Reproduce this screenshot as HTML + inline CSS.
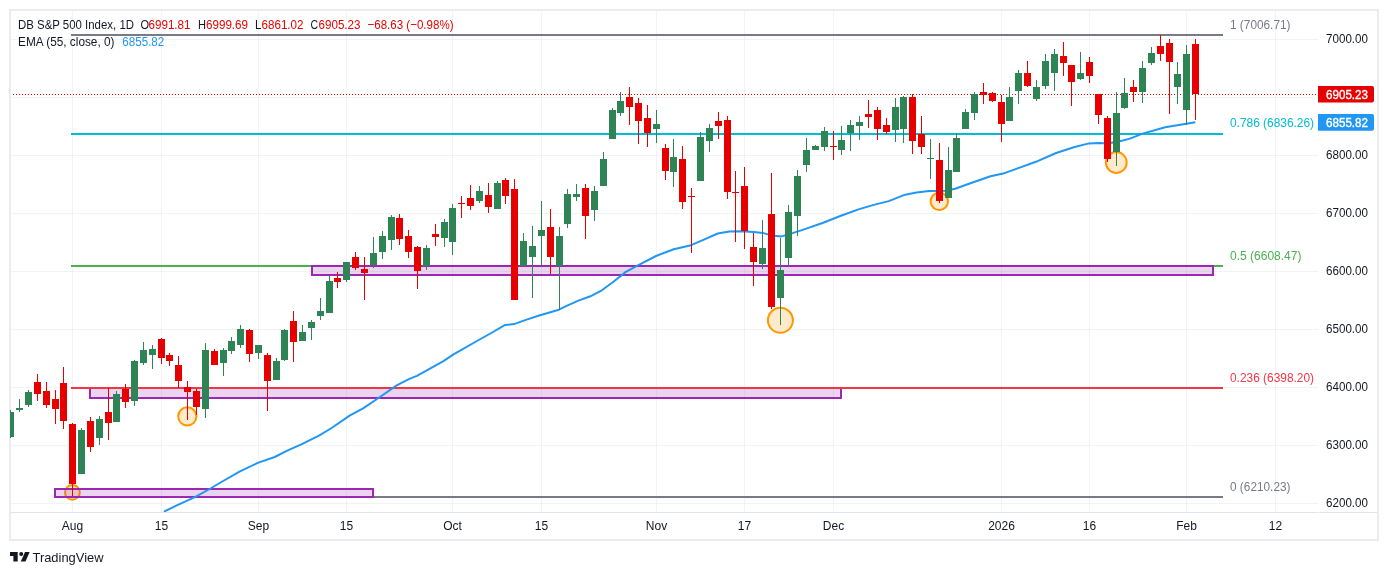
<!DOCTYPE html><html><head><meta charset="utf-8"><style>html,body{margin:0;padding:0;background:#fff;width:1388px;height:575px;overflow:hidden}svg{display:block;will-change:transform}text{font-family:"Liberation Sans",sans-serif}</style></head><body>
<svg width="1388" height="575" viewBox="0 0 1388 575" shape-rendering="crispEdges">
<defs><clipPath id="pane"><rect x="10" y="11" width="1308" height="501"/></clipPath></defs>
<rect x="10" y="10" width="1368" height="530" fill="none" stroke="#ebecf1" stroke-width="2"/>
<g fill="rgb(80,110,110)" fill-opacity="0.08"><rect x="11" y="39" width="1307" height="1"/><rect x="11" y="97" width="1307" height="1"/><rect x="11" y="155" width="1307" height="1"/><rect x="11" y="213" width="1307" height="1"/><rect x="11" y="271" width="1307" height="1"/><rect x="11" y="329" width="1307" height="1"/><rect x="11" y="387" width="1307" height="1"/><rect x="11" y="445" width="1307" height="1"/><rect x="11" y="503" width="1307" height="1"/><rect x="72" y="11" width="1" height="501"/><rect x="161" y="11" width="1" height="501"/><rect x="258" y="11" width="1" height="501"/><rect x="346" y="11" width="1" height="501"/><rect x="452" y="11" width="1" height="501"/><rect x="541" y="11" width="1" height="501"/><rect x="656" y="11" width="1" height="501"/><rect x="744" y="11" width="1" height="501"/><rect x="833" y="11" width="1" height="501"/><rect x="1001" y="11" width="1" height="501"/><rect x="1089" y="11" width="1" height="501"/><rect x="1186" y="11" width="1" height="501"/><rect x="1275" y="11" width="1" height="501"/></g>
<rect x="11" y="512" width="1307" height="1" fill="#e0e3eb"/>
<rect x="1319" y="512" width="58" height="1" fill="#e0e3eb"/>
<g clip-path="url(#pane)"><rect x="90" y="388" width="751" height="10" fill="rgba(156,39,176,0.2)" stroke="#9c27b0" stroke-width="2"/><rect x="71" y="34" width="1152" height="2" fill="#787b86"/><rect x="71" y="133" width="1152" height="2" fill="#00bcd4"/><rect x="71" y="265" width="1152" height="2" fill="#4caf50"/><rect x="71" y="387" width="1152" height="2" fill="#f23645"/><rect x="71" y="496" width="1152" height="2" fill="#787b86"/><g fill="#ffeacc" stroke="#ff9800" stroke-width="2" shape-rendering="geometricPrecision"><circle cx="187.3" cy="416.4" r="9.1"/><circle cx="72.4" cy="492.4" r="7.4"/><circle cx="780.4" cy="320.3" r="12.5"/><circle cx="939.3" cy="201.4" r="8.7"/><circle cx="1116.3" cy="162.5" r="10.4"/></g><rect x="55" y="489" width="318" height="8" fill="rgba(156,39,176,0.2)" stroke="#9c27b0" stroke-width="2"/><rect x="312" y="266" width="901" height="9" fill="rgba(156,39,176,0.2)" stroke="#9c27b0" stroke-width="2"/><line x1="13" y1="94.5" x2="1318" y2="94.5" stroke="#e60000" stroke-width="1" stroke-dasharray="1 2"/><polyline points="163.9,511.7 175.2,506.2 195.4,496.9 210.5,488.5 223.1,481 239.5,471.6 258.4,462.6 274.8,457 286.2,451.2 301.3,444.4 319,435.6 331.6,428 350,415.4 362.7,408.6 377.8,398.5 396.7,385.4 409.4,378.9 416.9,375.8 443.4,361.2 453.5,354.4 478.7,340 491.3,333 505.2,324.9 514,324.1 526.6,319.6 540,315.2 558.9,309.7 567.7,305.4 577.8,300.9 590.4,296.3 601.8,290.3 613.1,282 625.8,271.9 638.4,265.1 656,256 673.7,249.2 690,245.6 703.9,239.6 717.8,233.5 729.2,231.5 740,231.2 753.9,232.1 762.7,232.9 771.5,235.4 781.6,236.4 790.4,233.9 805.6,228.9 823.2,222.8 840.9,215.8 858.5,209.4 873.7,204.9 888.8,201.1 903.9,195.1 916.5,192.5 929.2,191 945.1,190.8 955.2,188.8 970.4,183.2 990.5,176.2 1003.1,173.6 1018.3,168.1 1035.9,161.8 1056.1,153 1073.8,147.2 1088.9,143.4 1099,142.9 1106.5,143.6 1118,141.8 1130,138.6 1142.6,133.6 1165.2,127.3 1195.3,122.3" fill="none" stroke="#2196f3" stroke-width="2" stroke-linejoin="round" shape-rendering="geometricPrecision"/><g fill="#e60000"><rect x="34" y="382" width="7" height="12"/><rect x="37" y="374" width="1" height="27"/><rect x="43" y="391" width="7" height="14"/><rect x="46" y="382" width="1" height="26"/><rect x="52" y="399" width="7" height="10"/><rect x="55" y="390" width="1" height="34"/><rect x="60" y="383" width="7" height="38"/><rect x="63" y="367" width="1" height="62"/><rect x="69" y="424" width="7" height="60"/><rect x="72" y="423" width="1" height="73"/><rect x="87" y="421" width="7" height="26"/><rect x="90" y="417" width="1" height="35"/><rect x="105" y="412" width="7" height="11"/><rect x="108" y="388" width="1" height="52"/><rect x="122" y="389" width="7" height="13"/><rect x="125" y="384" width="1" height="24"/><rect x="158" y="339" width="7" height="19"/><rect x="161" y="338" width="1" height="26"/><rect x="166" y="355" width="7" height="6"/><rect x="169" y="353" width="1" height="13"/><rect x="175" y="365" width="7" height="16"/><rect x="178" y="356" width="1" height="32"/><rect x="184" y="387" width="7" height="5"/><rect x="187" y="381" width="1" height="39"/><rect x="193" y="391" width="7" height="16"/><rect x="196" y="389" width="1" height="26"/><rect x="211" y="351" width="7" height="14"/><rect x="214" y="349" width="1" height="16"/><rect x="246" y="330" width="7" height="24"/><rect x="249" y="329" width="1" height="33"/><rect x="264" y="355" width="7" height="26"/><rect x="267" y="353" width="1" height="58"/><rect x="290" y="321" width="7" height="21"/><rect x="293" y="311" width="1" height="51"/><rect x="334" y="278" width="7" height="4"/><rect x="337" y="272" width="1" height="16"/><rect x="352" y="257" width="7" height="11"/><rect x="355" y="252" width="1" height="18"/><rect x="361" y="269" width="7" height="4"/><rect x="364" y="257" width="1" height="43"/><rect x="396" y="218" width="7" height="21"/><rect x="399" y="214" width="1" height="31"/><rect x="405" y="236" width="7" height="16"/><rect x="408" y="230" width="1" height="28"/><rect x="414" y="247" width="7" height="24"/><rect x="417" y="246" width="1" height="43"/><rect x="432" y="234" width="7" height="3"/><rect x="435" y="224" width="1" height="22"/><rect x="458" y="203" width="7" height="1"/><rect x="461" y="196" width="1" height="22"/><rect x="467" y="198" width="7" height="8"/><rect x="470" y="185" width="1" height="25"/><rect x="485" y="195" width="7" height="12"/><rect x="488" y="183" width="1" height="30"/><rect x="502" y="180" width="7" height="16"/><rect x="505" y="178" width="1" height="26"/><rect x="511" y="189" width="7" height="111"/><rect x="514" y="179" width="1" height="121"/><rect x="547" y="227" width="7" height="30"/><rect x="550" y="209" width="1" height="65"/><rect x="582" y="188" width="7" height="28"/><rect x="585" y="184" width="1" height="55"/><rect x="626" y="97" width="7" height="10"/><rect x="629" y="87" width="1" height="38"/><rect x="635" y="103" width="7" height="18"/><rect x="638" y="98" width="1" height="46"/><rect x="644" y="118" width="7" height="15"/><rect x="647" y="105" width="1" height="42"/><rect x="662" y="148" width="7" height="23"/><rect x="665" y="144" width="1" height="36"/><rect x="679" y="159" width="7" height="43"/><rect x="682" y="146" width="1" height="63"/><rect x="688" y="196" width="7" height="1"/><rect x="691" y="188" width="1" height="65"/><rect x="715" y="121" width="7" height="5"/><rect x="718" y="112" width="1" height="27"/><rect x="724" y="120" width="7" height="72"/><rect x="727" y="116" width="1" height="83"/><rect x="732" y="192" width="7" height="1"/><rect x="735" y="171" width="1" height="71"/><rect x="741" y="186" width="7" height="45"/><rect x="744" y="167" width="1" height="82"/><rect x="750" y="247" width="7" height="15"/><rect x="753" y="233" width="1" height="53"/><rect x="768" y="214" width="7" height="93"/><rect x="771" y="173" width="1" height="136"/><rect x="830" y="146" width="7" height="1"/><rect x="833" y="131" width="1" height="29"/><rect x="865" y="114" width="7" height="3"/><rect x="868" y="100" width="1" height="28"/><rect x="874" y="110" width="7" height="19"/><rect x="877" y="107" width="1" height="33"/><rect x="883" y="125" width="7" height="7"/><rect x="886" y="118" width="1" height="16"/><rect x="909" y="97" width="7" height="44"/><rect x="912" y="94" width="1" height="60"/><rect x="918" y="134" width="7" height="13"/><rect x="921" y="116" width="1" height="38"/><rect x="936" y="160" width="7" height="41"/><rect x="939" y="143" width="1" height="60"/><rect x="980" y="92" width="7" height="3"/><rect x="983" y="83" width="1" height="21"/><rect x="989" y="93" width="7" height="8"/><rect x="992" y="92" width="1" height="10"/><rect x="998" y="102" width="7" height="22"/><rect x="1001" y="95" width="1" height="47"/><rect x="1024" y="73" width="7" height="13"/><rect x="1027" y="61" width="1" height="26"/><rect x="1060" y="56" width="7" height="7"/><rect x="1063" y="42" width="1" height="34"/><rect x="1068" y="65" width="7" height="17"/><rect x="1071" y="65" width="1" height="41"/><rect x="1086" y="62" width="7" height="14"/><rect x="1089" y="57" width="1" height="26"/><rect x="1095" y="94" width="7" height="21"/><rect x="1098" y="94" width="1" height="30"/><rect x="1104" y="118" width="7" height="41"/><rect x="1107" y="116" width="1" height="46"/><rect x="1130" y="87" width="7" height="5"/><rect x="1133" y="80" width="1" height="22"/><rect x="1157" y="46" width="7" height="8"/><rect x="1160" y="35" width="1" height="26"/><rect x="1166" y="43" width="7" height="19"/><rect x="1169" y="39" width="1" height="75"/><rect x="1192" y="44" width="7" height="50"/><rect x="1195" y="39" width="1" height="81"/></g><g fill="#2e8454"><rect x="7" y="412" width="7" height="25"/><rect x="10" y="410" width="1" height="28"/><rect x="16" y="408" width="7" height="2"/><rect x="19" y="399" width="1" height="13"/><rect x="25" y="392" width="7" height="13"/><rect x="28" y="390" width="1" height="17"/><rect x="78" y="430" width="7" height="44"/><rect x="81" y="428" width="1" height="46"/><rect x="96" y="419" width="7" height="19"/><rect x="99" y="416" width="1" height="29"/><rect x="113" y="394" width="7" height="28"/><rect x="116" y="391" width="1" height="31"/><rect x="131" y="361" width="7" height="40"/><rect x="134" y="360" width="1" height="46"/><rect x="140" y="350" width="7" height="13"/><rect x="143" y="342" width="1" height="23"/><rect x="149" y="349" width="7" height="6"/><rect x="152" y="345" width="1" height="24"/><rect x="202" y="350" width="7" height="59"/><rect x="205" y="343" width="1" height="75"/><rect x="220" y="350" width="7" height="13"/><rect x="223" y="348" width="1" height="28"/><rect x="228" y="341" width="7" height="10"/><rect x="231" y="337" width="1" height="17"/><rect x="237" y="329" width="7" height="16"/><rect x="240" y="325" width="1" height="23"/><rect x="255" y="345" width="7" height="8"/><rect x="258" y="345" width="1" height="14"/><rect x="273" y="361" width="7" height="19"/><rect x="276" y="358" width="1" height="22"/><rect x="281" y="330" width="7" height="30"/><rect x="284" y="329" width="1" height="32"/><rect x="299" y="332" width="7" height="9"/><rect x="302" y="325" width="1" height="16"/><rect x="308" y="322" width="7" height="6"/><rect x="311" y="320" width="1" height="20"/><rect x="317" y="311" width="7" height="5"/><rect x="320" y="298" width="1" height="22"/><rect x="326" y="281" width="7" height="32"/><rect x="329" y="276" width="1" height="37"/><rect x="343" y="262" width="7" height="18"/><rect x="346" y="262" width="1" height="20"/><rect x="370" y="253" width="7" height="12"/><rect x="373" y="237" width="1" height="31"/><rect x="379" y="236" width="7" height="16"/><rect x="382" y="231" width="1" height="28"/><rect x="388" y="217" width="7" height="23"/><rect x="391" y="215" width="1" height="35"/><rect x="423" y="248" width="7" height="18"/><rect x="426" y="245" width="1" height="25"/><rect x="441" y="222" width="7" height="16"/><rect x="444" y="219" width="1" height="28"/><rect x="449" y="208" width="7" height="34"/><rect x="452" y="204" width="1" height="51"/><rect x="476" y="191" width="7" height="10"/><rect x="479" y="186" width="1" height="17"/><rect x="494" y="183" width="7" height="26"/><rect x="497" y="181" width="1" height="28"/><rect x="520" y="241" width="7" height="25"/><rect x="523" y="233" width="1" height="33"/><rect x="529" y="246" width="7" height="11"/><rect x="532" y="226" width="1" height="72"/><rect x="538" y="230" width="7" height="6"/><rect x="541" y="201" width="1" height="64"/><rect x="556" y="236" width="7" height="30"/><rect x="559" y="227" width="1" height="83"/><rect x="564" y="194" width="7" height="30"/><rect x="567" y="189" width="1" height="39"/><rect x="573" y="194" width="7" height="3"/><rect x="576" y="184" width="1" height="17"/><rect x="591" y="191" width="7" height="19"/><rect x="594" y="186" width="1" height="35"/><rect x="600" y="159" width="7" height="27"/><rect x="603" y="152" width="1" height="34"/><rect x="609" y="110" width="7" height="29"/><rect x="612" y="108" width="1" height="31"/><rect x="617" y="101" width="7" height="12"/><rect x="620" y="92" width="1" height="24"/><rect x="653" y="124" width="7" height="5"/><rect x="656" y="110" width="1" height="33"/><rect x="670" y="157" width="7" height="15"/><rect x="673" y="139" width="1" height="48"/><rect x="697" y="137" width="7" height="44"/><rect x="700" y="132" width="1" height="49"/><rect x="706" y="128" width="7" height="13"/><rect x="709" y="124" width="1" height="28"/><rect x="759" y="248" width="7" height="16"/><rect x="762" y="220" width="1" height="49"/><rect x="777" y="270" width="7" height="28"/><rect x="780" y="238" width="1" height="87"/><rect x="785" y="212" width="7" height="46"/><rect x="788" y="205" width="1" height="61"/><rect x="794" y="176" width="7" height="40"/><rect x="797" y="170" width="1" height="66"/><rect x="803" y="150" width="7" height="15"/><rect x="806" y="138" width="1" height="34"/><rect x="812" y="146" width="7" height="4"/><rect x="815" y="145" width="1" height="5"/><rect x="821" y="131" width="7" height="16"/><rect x="824" y="127" width="1" height="24"/><rect x="838" y="140" width="7" height="10"/><rect x="841" y="126" width="1" height="29"/><rect x="847" y="125" width="7" height="8"/><rect x="850" y="120" width="1" height="31"/><rect x="856" y="122" width="7" height="4"/><rect x="859" y="116" width="1" height="24"/><rect x="892" y="107" width="7" height="23"/><rect x="895" y="98" width="1" height="44"/><rect x="900" y="97" width="7" height="32"/><rect x="903" y="96" width="1" height="47"/><rect x="927" y="158" width="7" height="1"/><rect x="930" y="139" width="1" height="40"/><rect x="945" y="170" width="7" height="28"/><rect x="948" y="147" width="1" height="51"/><rect x="953" y="138" width="7" height="34"/><rect x="956" y="133" width="1" height="39"/><rect x="962" y="112" width="7" height="17"/><rect x="965" y="109" width="1" height="20"/><rect x="971" y="94" width="7" height="19"/><rect x="974" y="92" width="1" height="28"/><rect x="1006" y="97" width="7" height="24"/><rect x="1009" y="87" width="1" height="34"/><rect x="1015" y="73" width="7" height="18"/><rect x="1018" y="70" width="1" height="34"/><rect x="1033" y="87" width="7" height="12"/><rect x="1036" y="80" width="1" height="21"/><rect x="1042" y="61" width="7" height="25"/><rect x="1045" y="54" width="1" height="35"/><rect x="1051" y="54" width="7" height="19"/><rect x="1054" y="49" width="1" height="42"/><rect x="1077" y="73" width="7" height="6"/><rect x="1080" y="52" width="1" height="28"/><rect x="1113" y="113" width="7" height="39"/><rect x="1116" y="92" width="1" height="74"/><rect x="1121" y="93" width="7" height="15"/><rect x="1124" y="78" width="1" height="31"/><rect x="1139" y="68" width="7" height="24"/><rect x="1142" y="61" width="1" height="42"/><rect x="1148" y="53" width="7" height="10"/><rect x="1151" y="47" width="1" height="18"/><rect x="1174" y="74" width="7" height="13"/><rect x="1177" y="62" width="1" height="42"/><rect x="1183" y="54" width="7" height="56"/><rect x="1186" y="45" width="1" height="80"/></g></g>
<path d="M1318 86 H1372 a2 2 0 0 1 2 2 V100.5 a2 2 0 0 1 -2 2 H1318 Z" fill="#e60000" shape-rendering="geometricPrecision"/><path d="M1318 114 H1372 a2 2 0 0 1 2 2 V128.8 a2 2 0 0 1 -2 2 H1318 Z" fill="#2196f3" shape-rendering="geometricPrecision"/>
<g shape-rendering="geometricPrecision"><text x="18" y="29" fill="#131722" font-size="13" textLength="116" lengthAdjust="spacingAndGlyphs">DB S&amp;P 500 Index, 1D</text><text x="140.5" y="29" fill="#131722" font-size="13" textLength="8.6" lengthAdjust="spacingAndGlyphs">O</text><text x="148.5" y="29" fill="#e60000" font-size="13" textLength="42" lengthAdjust="spacingAndGlyphs">6991.81</text><text x="198" y="29" fill="#131722" font-size="13" textLength="8.0" lengthAdjust="spacingAndGlyphs">H</text><text x="206" y="29" fill="#e60000" font-size="13" textLength="42" lengthAdjust="spacingAndGlyphs">6999.69</text><text x="255" y="29" fill="#131722" font-size="13" textLength="6.4" lengthAdjust="spacingAndGlyphs">L</text><text x="261.5" y="29" fill="#e60000" font-size="13" textLength="42" lengthAdjust="spacingAndGlyphs">6861.02</text><text x="310.5" y="29" fill="#131722" font-size="13" textLength="7.6" lengthAdjust="spacingAndGlyphs">C</text><text x="318.5" y="29" fill="#e60000" font-size="13" textLength="42" lengthAdjust="spacingAndGlyphs">6905.23</text><text x="367.5" y="29" fill="#e60000" font-size="13" textLength="86" lengthAdjust="spacingAndGlyphs">−68.63 (−0.98%)</text><text x="18" y="46" fill="#131722" font-size="13" textLength="96.5" lengthAdjust="spacingAndGlyphs">EMA (55, close, 0)</text><text x="122.3" y="46" fill="#2196f3" font-size="13" textLength="42" lengthAdjust="spacingAndGlyphs">6855.82</text><text x="1326" y="43" fill="#131722" font-size="12" textLength="42" lengthAdjust="spacingAndGlyphs">7000.00</text><text x="1326" y="159" fill="#131722" font-size="12" textLength="42" lengthAdjust="spacingAndGlyphs">6800.00</text><text x="1326" y="217" fill="#131722" font-size="12" textLength="42" lengthAdjust="spacingAndGlyphs">6700.00</text><text x="1326" y="275" fill="#131722" font-size="12" textLength="42" lengthAdjust="spacingAndGlyphs">6600.00</text><text x="1326" y="333" fill="#131722" font-size="12" textLength="42" lengthAdjust="spacingAndGlyphs">6500.00</text><text x="1326" y="391" fill="#131722" font-size="12" textLength="42" lengthAdjust="spacingAndGlyphs">6400.00</text><text x="1326" y="449" fill="#131722" font-size="12" textLength="42" lengthAdjust="spacingAndGlyphs">6300.00</text><text x="1326" y="507" fill="#131722" font-size="12" textLength="42" lengthAdjust="spacingAndGlyphs">6200.00</text><text x="1326" y="98.5" fill="#ffffff" font-size="12" textLength="42" lengthAdjust="spacingAndGlyphs" stroke="#ffffff" stroke-width="0.35">6905.23</text><text x="1326" y="127" fill="#ffffff" font-size="12" textLength="42" lengthAdjust="spacingAndGlyphs" stroke="#ffffff" stroke-width="0.35">6855.82</text><text x="1230" y="29" fill="#787b86" font-size="12" textLength="60.5" lengthAdjust="spacingAndGlyphs">1 (7006.71)</text><text x="1230" y="127.2" fill="#00bcd4" font-size="12" textLength="84" lengthAdjust="spacingAndGlyphs">0.786 (6836.26)</text><text x="1230" y="259.8" fill="#4caf50" font-size="12" textLength="71.5" lengthAdjust="spacingAndGlyphs">0.5 (6608.47)</text><text x="1230" y="381.8" fill="#f23645" font-size="12" textLength="84" lengthAdjust="spacingAndGlyphs">0.236 (6398.20)</text><text x="1230" y="490.8" fill="#787b86" font-size="12" textLength="60.5" lengthAdjust="spacingAndGlyphs">0 (6210.23)</text><text x="72.5" y="530" fill="#131722" font-size="12" text-anchor="middle">Aug</text><text x="161.5" y="530" fill="#131722" font-size="12" text-anchor="middle">15</text><text x="258.5" y="530" fill="#131722" font-size="12" text-anchor="middle">Sep</text><text x="346.5" y="530" fill="#131722" font-size="12" text-anchor="middle">15</text><text x="452.5" y="530" fill="#131722" font-size="12" text-anchor="middle">Oct</text><text x="541.5" y="530" fill="#131722" font-size="12" text-anchor="middle">15</text><text x="656.5" y="530" fill="#131722" font-size="12" text-anchor="middle">Nov</text><text x="744.5" y="530" fill="#131722" font-size="12" text-anchor="middle">17</text><text x="833.5" y="530" fill="#131722" font-size="12" text-anchor="middle">Dec</text><text x="1001.5" y="530" fill="#131722" font-size="12" text-anchor="middle">2026</text><text x="1089.5" y="530" fill="#131722" font-size="12" text-anchor="middle">16</text><text x="1186.5" y="530" fill="#131722" font-size="12" text-anchor="middle">Feb</text><text x="1275.5" y="530" fill="#131722" font-size="12" text-anchor="middle">12</text><text x="32.5" y="561.6" fill="#131722" font-size="13" textLength="71" lengthAdjust="spacingAndGlyphs">TradingView</text></g>
<g fill="#131722" shape-rendering="geometricPrecision"><path d="M10 552 H17.7 V561.6 H13.4 V556 H10 Z"/><circle cx="21.2" cy="554" r="2"/><path d="M25 552 H29.6 L25.5 561.6 H20.8 Z"/></g>
</svg></body></html>
